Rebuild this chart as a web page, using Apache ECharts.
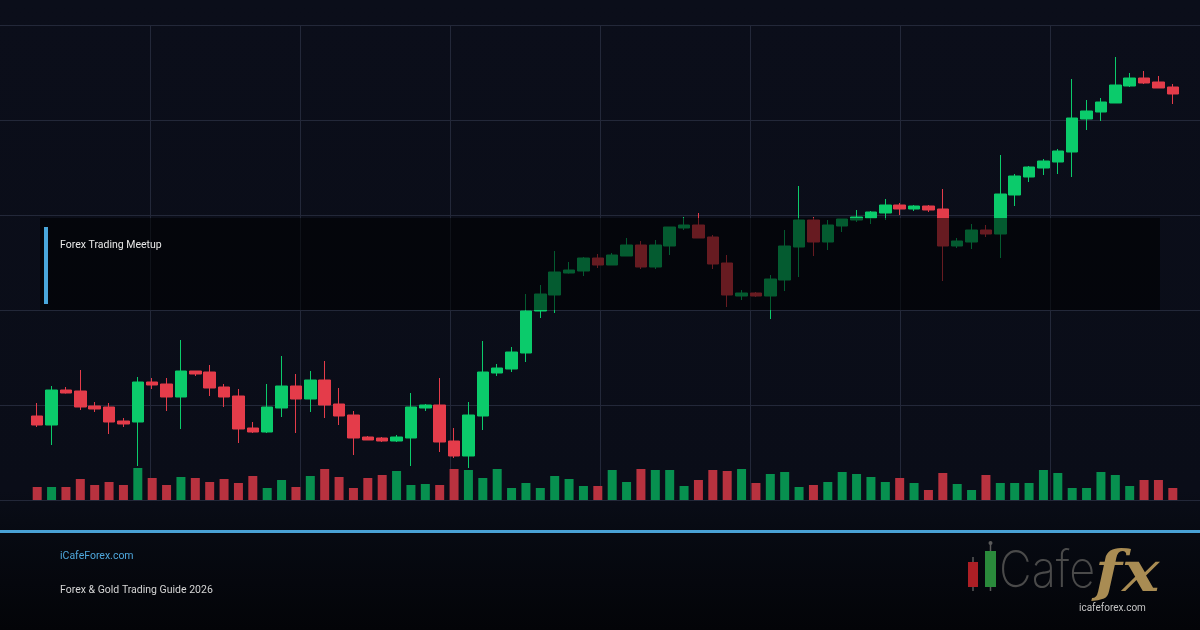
<!DOCTYPE html>
<html>
<head>
<meta charset="utf-8">
<script src="https://cdn.jsdelivr.net/npm/echarts@6/dist/echarts.min.js"></script>
<style>
html,body{margin:0;padding:0;background:#0a0d18;}
#chart{width:1200px;height:630px;}
</style>
</head>
<body>
<div id="chart"></div>
<script>
// ---- data ----
const categories = Array.from({length: 80}, (_, i) => 'D' + (i + 1));
// [open, close, low, high]
const opens  = [2084,2075,2110,2109,2094,2093,2079,2078,2118,2116,2103,2129,2128,2113,2104,2072,2068,2092,2114,2101,
                2120,2096,2085,2063,2062,2059,2062,2092,2095,2059,2044,2084,2127,2131,2147,2189,2205,2227,2229,2242,
                2235,2244,2255,2233,2254,2272,2275,2263,2237,2204,2207,2204,2220,2253,2280,2258,2274,2280,2282,2287,
                2295,2291,2294,2291,2254,2258,2270,2266,2305,2323,2332,2338,2348,2381,2388,2397,2414,2422,2418,2413];
const closes = [2075,2110,2107,2093,2091,2078,2076,2118,2115,2103,2129,2126,2112,2103,2071,2068,2093,2114,2101,2120,
                2095,2084,2062,2060,2059,2063,2093,2095,2058,2044,2085,2128,2132,2148,2189,2206,2228,2230,2242,2235,
                2245,2255,2233,2255,2273,2275,2262,2236,2205,2207,2204,2221,2254,2280,2258,2275,2281,2283,2288,2295,
                2291,2294,2290,2254,2259,2270,2266,2306,2324,2333,2339,2349,2382,2389,2398,2415,2422,2417,2412,2406];
const lows   = [2073,2055,2106.5,2090,2088,2066,2073,2034,2111,2089,2071,2124,2104,2093,2057,2067,2067,2083,2067,2088,
                2082,2075,2045,2060,2058,2058,2034,2089,2048,2042,2032,2070,2124,2128,2138,2182,2187,2226.5,2224,2232,
                2235,2244,2231,2231,2245,2270,2262,2231,2193,2200,2203,2181,2209,2223,2244,2250,2268,2278,2276,2280,
                2285,2289,2288,2219,2252,2251,2263,2242,2294,2318,2325,2326,2323,2370,2379,2397,2413,2416,2412,2396];
const highs  = [2097,2114,2113,2130,2098,2097,2082,2123,2122,2122,2160,2129,2135,2116,2111,2078,2116,2144,2126,2129,
                2139,2112,2089,2064,2063,2065,2107,2096,2122,2072,2098,2159,2136,2153,2206,2215,2249,2238,2243,2246,
                2247,2262,2259,2260,2273,2283,2287,2265,2245,2210,2208,2225,2270,2314,2283,2280,2281,2290,2289,2301,
                2297,2295,2295,2311,2262,2276,2275,2345,2326,2334,2341,2351,2421,2400,2402,2443,2427,2429,2424,2416];
const volumes = [1300,1300,1300,2100,1500,1800,1500,3200,2200,1500,2300,2200,1800,2100,1700,2400,1200,2000,1300,2400,
                 3100,2300,1200,2200,2500,2900,1500,1600,1500,3100,3000,2200,3100,1200,1700,1200,2400,2100,1400,1400,
                 3000,1800,3100,3000,3000,1400,2000,3000,2900,3100,1700,2600,2800,1300,1500,1800,2800,2600,2300,1800,
                 2200,1700,1000,2700,1600,1000,2500,1700,1700,1700,3000,2700,1200,1200,2800,2500,1400,2000,2000,1200];
const title = 'Forex Trading Meetup';
const siteText = 'iCafeForex.com';
const guideText = 'Forex & Gold Trading Guide 2026';
const logoUrlText = 'icafeforex.com';

// ---- styles ----
const UP = '#0bcb6b', DOWN = '#e43c4a';
const VUP = '#07904f', VDOWN = '#b8323f';
const GRID = '#232839';

const candleData = opens.map((o, i) => [o, closes[i], lows[i], highs[i]]);
const volData = volumes.map((v, i) => ({
  value: v,
  itemStyle: { color: closes[i] >= opens[i] ? VUP : VDOWN }
}));

const chart = echarts.init(document.getElementById('chart'), null, {renderer: 'canvas'});
chart.setOption({
  animation: false,
  backgroundColor: {
    type: 'linear', x: 0, y: 0, x2: 0, y2: 1,
    colorStops: [
      {offset: 0, color: '#0b0e1a'},
      {offset: 0.78, color: '#0a0d18'},
      {offset: 0.85, color: '#070a12'},
      {offset: 1, color: '#030408'}
    ]
  },
  grid: [
    {left: 0, right: 0, top: 25, bottom: 130},
    {left: 30, right: 20, top: 25, bottom: 130}
  ],
  xAxis: [
    {type: 'value', gridIndex: 0, min: 0, max: 1200, interval: 150,
     axisLine: {show: false}, axisTick: {show: false}, axisLabel: {show: false},
     splitLine: {show: true, showMinLine: false, showMaxLine: false, lineStyle: {color: GRID, width: 1}}},
    {type: 'category', gridIndex: 1, data: categories, boundaryGap: true, show: false}
  ],
  yAxis: [
    {type: 'value', gridIndex: 0, min: 0, max: 475, interval: 95,
     axisLine: {show: false}, axisTick: {show: false}, axisLabel: {show: false},
     splitLine: {show: true, lineStyle: {color: GRID, width: 1}}},
    {type: 'value', gridIndex: 1, min: 2000, max: 2475, show: false, splitLine: {show: false}},
    {type: 'value', gridIndex: 1, min: 0, max: 47500, show: false, splitLine: {show: false}}
  ],
  series: [
    {
      type: 'bar', xAxisIndex: 1, yAxisIndex: 2, data: volData, barWidth: 9, z: 2
    },
    {
      type: 'candlestick', xAxisIndex: 1, yAxisIndex: 1, data: candleData, barWidth: 12, z: 3,
      itemStyle: {color: UP, color0: DOWN, borderColor: UP, borderColor0: DOWN, borderWidth: 1}
    }
  ],
  graphic: [
    {type: 'rect', z: 100, shape: {x: 40, y: 218, width: 1120, height: 92},
     style: {fill: 'rgba(0,0,0,0.55)'}},
    {type: 'rect', z: 101, shape: {x: 44, y: 227, width: 4, height: 77},
     style: {fill: '#49a6da'}},
    {type: 'text', z: 101, x: 60, y: 245,
     style: {text: title, fill: '#e8e8e8', font: '10.5px Roboto', verticalAlign: 'middle'}},
    {type: 'rect', z: 100, shape: {x: 0, y: 530, width: 1200, height: 3},
     style: {fill: '#49a2d6'}},
    {type: 'text', z: 101, x: 60, y: 556,
     style: {text: siteText, fill: '#4ea7dc', font: '10.5px Roboto', verticalAlign: 'middle'}},
    {type: 'text', z: 101, x: 60, y: 590,
     style: {text: guideText, fill: '#d6d6d6', font: '10.5px Roboto', verticalAlign: 'middle'}},
    // logo
    {type: 'line', z: 101, shape: {x1: 973, y1: 557, x2: 973, y2: 591}, style: {stroke: '#5a5a5a', lineWidth: 1.5}},
    {type: 'rect', z: 102, shape: {x: 968, y: 562, width: 10, height: 25}, style: {fill: '#ad1f25'}},
    {type: 'line', z: 101, shape: {x1: 990.5, y1: 544, x2: 990.5, y2: 591}, style: {stroke: '#5a5a5a', lineWidth: 1.5}},
    {type: 'circle', z: 101, shape: {cx: 990.5, cy: 543, r: 2}, style: {fill: '#5a5a5a'}},
    {type: 'rect', z: 102, shape: {x: 985, y: 551, width: 11, height: 36}, style: {fill: '#2a8a3b'}},
    {type: 'text', z: 101, x: 999, y: 597, scaleX: 0.9,
     style: {text: 'Cafe', fill: '#4a4a4a', font: '200 50px Inter', verticalAlign: 'bottom'}},
    {type: 'text', z: 102, x: 1095, y: 604, scaleX: 1.12,
     style: {text: 'fx', fill: '#a98c53', font: 'italic bold 56px "DejaVu Serif"', verticalAlign: 'bottom'}},
    {type: 'text', z: 103, x: 1079, y: 608,
     style: {text: logoUrlText, fill: '#c4c4c4', font: '10px Roboto', verticalAlign: 'middle'}}
  ]
});
</script>
</body>
</html>
